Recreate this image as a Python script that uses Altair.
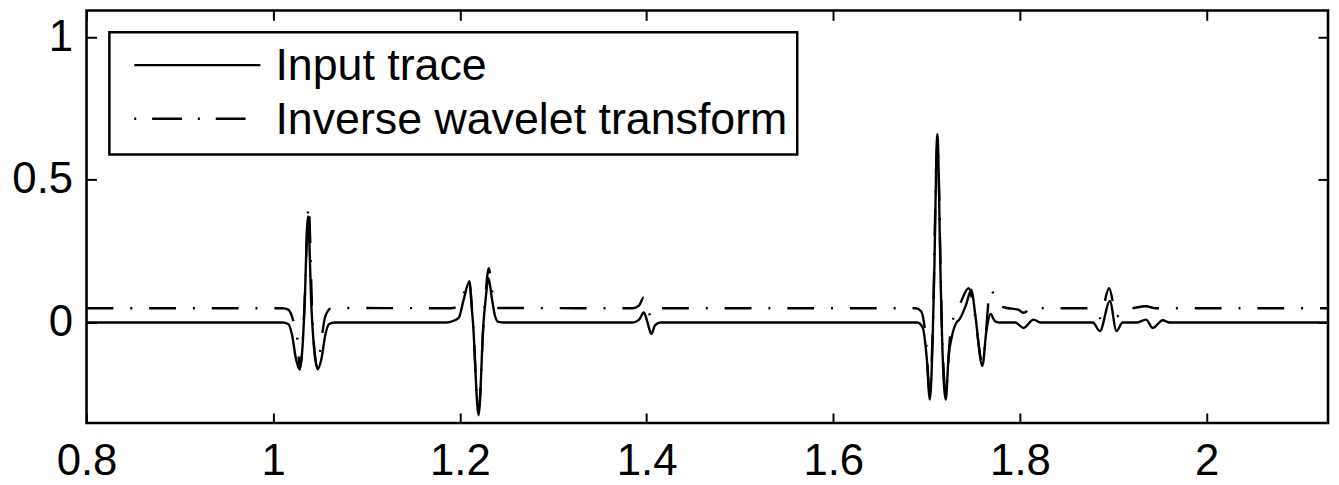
import altair as alt
import pandas as pd

# ---- data ----
input_t = [0.80, 1.010, 1.016, 1.020, 1.0245, 1.0283, 1.0315, 1.0335, 1.0372, 1.041, 1.0435, 1.0478, 1.0515, 1.056, 1.060, 1.066,
           1.185, 1.190, 1.1987, 1.204, 1.2103, 1.2125, 1.214, 1.220, 1.2253, 1.2275, 1.2307, 1.234, 1.2377, 1.2413, 1.247,
           1.385, 1.392, 1.397, 1.401, 1.405, 1.409, 1.415,
           1.690, 1.696, 1.700, 1.7035, 1.7065, 1.708, 1.7115, 1.715, 1.7165, 1.7205, 1.7235, 1.727, 1.732,
           1.735, 1.742, 1.748, 1.752, 1.7597, 1.764, 1.7685, 1.773, 1.7773,
           1.795, 1.8038, 1.8145, 1.822,
           1.878, 1.8856, 1.8963, 1.9034, 1.910,
           1.925, 1.935, 1.9424, 1.9529, 1.960, 2.13]
input_v = [0.0, 0.0, -0.005, -0.04, -0.13, -0.164, -0.08, 0.05, 0.372, 0.05, -0.08, -0.164, -0.13, -0.04, -0.005, 0.0,
           0.0, 0.002, 0.016, 0.08, 0.145, 0.06, 0.0, -0.325, 0.0, 0.08, 0.155, 0.09, 0.022, 0.002, 0.0,
           0.0, 0.01, 0.035, 0.0, -0.04, -0.01, 0.0,
           0.0, -0.02, -0.12, -0.27, -0.05, 0.15, 0.66, 0.15, -0.05, -0.27, -0.12, -0.05, 0.0,
           0.01, 0.06, 0.115, 0.03, -0.152, -0.03, 0.03, 0.005, 0.0,
           0.0, -0.019, 0.01, 0.0,
           0.0, -0.03, 0.075, -0.03, 0.0,
           0.0, 0.01, -0.019, 0.008, 0.0, 0.0]

inverse_t = [0.80, 1.010, 1.016, 1.022, 1.0263, 1.0283, 1.0315, 1.0335, 1.038, 1.0415, 1.0435, 1.0478, 1.0513, 1.056, 1.0627,
             1.190, 1.197, 1.204, 1.2095, 1.2125, 1.214, 1.220, 1.2253, 1.2275, 1.231, 1.234, 1.2377, 1.2413,
             1.385, 1.392, 1.397, 1.401, 1.405, 1.409, 1.415,
             1.688, 1.694, 1.699, 1.7035, 1.7065, 1.7115, 1.7165, 1.7205, 1.725, 1.730,
             1.735, 1.745, 1.751, 1.7597, 1.7685, 1.777, 1.786,
             1.798, 1.804, 1.8145, 1.822,
             1.878, 1.8856, 1.8955, 1.9034, 1.910,
             1.920, 1.935, 1.945, 2.13]
inverse_v = [0.05, 0.05, 0.045, 0.0, -0.07, -0.164, -0.07, 0.06, 0.41, 0.06, -0.07, -0.16, -0.07, 0.024, 0.051,
             0.05, 0.055, 0.10, 0.152, 0.07, 0.0, -0.31, 0.0, 0.10, 0.19, 0.12, 0.055, 0.051,
             0.05, 0.06, 0.088, 0.05, 0.02, 0.04, 0.05,
             0.05, 0.04, -0.05, -0.25, -0.03, 0.63, -0.03, -0.25, -0.05, 0.03,
             0.06, 0.12, 0.04, -0.14, 0.115, 0.06, 0.051,
             0.045, 0.034, 0.059, 0.05,
             0.05, 0.016, 0.12, 0.02, 0.045,
             0.05, 0.057, 0.05, 0.05]

x_ticks = [0.8, 1.0, 1.2, 1.4, 1.6, 1.8, 2.0]
y_ticks = [0.0, 0.5, 1.0]
legend_labels = ["Input trace", "Inverse wavelet transform"]

FONT = "Liberation Sans"
LBL = 44
LW = 2.4
DASH = [27, 17, 2, 17]

df_in = pd.DataFrame({"t": input_t, "v": input_v})
df_inv = pd.DataFrame({"t": inverse_t, "v": inverse_v})

xs = alt.Scale(domain=[0.8, 2.13], nice=False, zero=False)
ys = alt.Scale(domain=[-0.352, 1.094], nice=False, zero=False)

common = dict(grid=False, domain=False, tickSize=10, offset=-10, tickColor="black",
              tickWidth=2, title=None, labelFont=FONT, labelFontSize=LBL, labelColor="black",
              labelFlush=False, labelOverlap=False)

solid = alt.Chart(df_in).mark_line(color="black", strokeWidth=LW, interpolate="monotone").encode(
    x=alt.X("t:Q", scale=xs, axis=alt.Axis(orient="bottom", values=x_ticks, format="~g",
                                           labelPadding=17, **common)),
    y=alt.Y("v:Q", scale=ys, axis=alt.Axis(orient="left", values=y_ticks, format="~g",
                                           labelPadding=14, **common)),
)
dashed = alt.Chart(df_inv).mark_line(color="black", strokeWidth=LW, strokeDash=DASH,
                                     interpolate="monotone").encode(
    x=alt.X("t:Q", scale=xs, axis=alt.Axis(orient="top", values=x_ticks, labels=False, **common)),
    y=alt.Y("v:Q", scale=ys, axis=alt.Axis(orient="right", values=y_ticks, labels=False, **common)),
)

one = pd.DataFrame({"k": [0]})
box = alt.Chart(one).mark_rect(fill="white", stroke="black", strokeWidth=2.5).encode(
    x=alt.value(23), x2=alt.value(715), y=alt.value(22), y2=alt.value(145))
s1 = alt.Chart(one).mark_rule(color="black", strokeWidth=LW).encode(
    x=alt.value(48), x2=alt.value(175), y=alt.value(55))
s2 = alt.Chart(one).mark_rule(color="black", strokeWidth=LW, strokeDash=[2, 16, 30, 16]).encode(
    x=alt.value(48), x2=alt.value(175), y=alt.value(109))
t1 = alt.Chart(one).mark_text(align="left", baseline="middle", font=FONT, fontSize=45, color="black").encode(
    x=alt.value(190), y=alt.value(56), text=alt.value(legend_labels[0]))
t2 = alt.Chart(one).mark_text(align="left", baseline="middle", font=FONT, fontSize=45, color="black").encode(
    x=alt.value(190), y=alt.value(110), text=alt.value(legend_labels[1]))

chart = alt.layer(solid, dashed, box, s1, s2, t1, t2).resolve_axis(
    x="independent", y="independent"
).properties(
    width=1249, height=415,
    autosize=alt.AutoSizeParams(type="none"),
    padding={"left": 79, "top": 1, "right": 3, "bottom": 60},
).configure_view(stroke="black", strokeWidth=2.6)

chart.save("out.html", embed_options={"renderer": "svg", "actions": False})
